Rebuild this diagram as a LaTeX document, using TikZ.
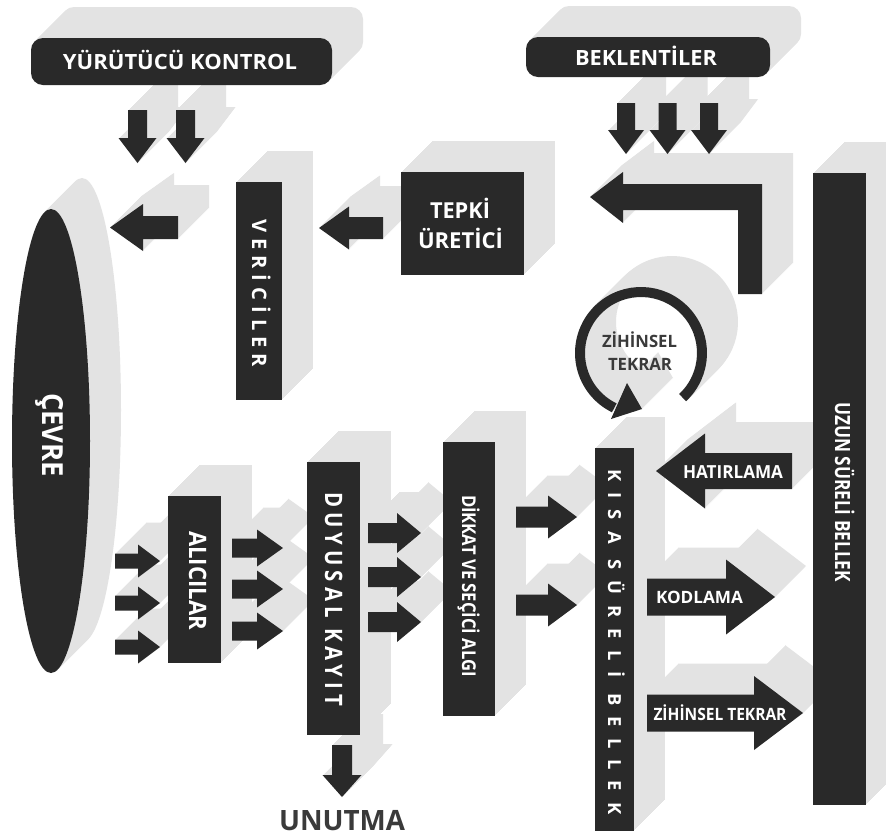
\documentclass[tikz,border=0pt]{standalone}
\usepackage{fontspec}
\setmainfont{Open Sans}
\usepackage{graphicx}
\definecolor{ink}{RGB}{41,41,41}
\definecolor{shadowgray}{RGB}{227,227,227}
\definecolor{greytext}{RGB}{58,58,58}
% horizontal block arrow: xstart, xhead, xtip, ycenter, shaft width, head width, style
\newcommand\harr[7]{\fill[#7] (#1,{#4-#5/2}) -- (#2,{#4-#5/2}) -- (#2,{#4-#6/2}) -- (#3,#4) -- (#2,{#4+#6/2}) -- (#2,{#4+#5/2}) -- (#1,{#4+#5/2}) -- cycle;}
% vertical block arrow: ystart, yhead, ytip, xcenter, shaft width, head width, style
\newcommand\varr[7]{\fill[#7] ({#4-#5/2},#1) -- ({#4-#5/2},#2) -- ({#4-#6/2},#2) -- (#4,#3) -- ({#4+#6/2},#2) -- ({#4+#5/2},#2) -- ({#4+#5/2},#1) -- cycle;}
\newcommand\fsz[1]{\fontsize{#1}{#1}\selectfont\bfseries}
\newcommand\allshapes[1]{%
 \fill[#1, rounded corners=12pt] (31,38) rectangle (332,85);
 \fill[#1, rounded corners=12pt] (526,37) rectangle (770,77);
 \varr{110}{138}{163}{137.5}{19}{38}{#1}
 \varr{110}{138}{163}{185.5}{19}{38}{#1}
 \varr{103}{130}{154}{626}{18}{36}{#1}
 \varr{103}{130}{154}{667.5}{18}{36}{#1}
 \varr{103}{130}{154}{709}{18}{36}{#1}
 \harr{178}{143}{110}{227.5}{23}{47}{#1}
 \fill[#1] (236,182) rectangle (282,400);
 \harr{383}{349}{319}{228}{22}{43}{#1}
 \fill[#1] (401,172) rectangle (524,275);
 \fill[#1] (590,197) -- (623,172) -- (623,184) -- (762,184) -- (762,294) -- (738,294) -- (738,210) -- (623,210) -- (623,223) -- cycle;
 \fill[#1] (813,173) rectangle (866,805);
 \fill[#1] (51,441) ellipse [x radius=39, y radius=232];
 \fill[#1] (168,496) rectangle (221,663);
 \harr{115}{138}{160}{561}{15}{33}{#1}
 \harr{115}{138}{160}{603}{15}{33}{#1}
 \harr{115}{138}{160}{647}{15}{33}{#1}
 \harr{232}{257}{283}{548}{19}{37}{#1}
 \harr{232}{257}{283}{589}{19}{37}{#1}
 \harr{232}{257}{283}{631}{19}{37}{#1}
 \fill[#1] (307,462) rectangle (360,735);
 \harr{368}{397}{421}{533}{20}{40}{#1}
 \harr{368}{397}{421}{577}{20}{40}{#1}
 \harr{368}{397}{421}{622}{20}{40}{#1}
 \fill[#1] (443,442) rectangle (495,716);
 \harr{516}{548}{577}{517}{21}{43}{#1}
 \harr{516}{548}{577}{605}{21}{43}{#1}
 \fill[#1] (595,448) rectangle (634,831);
 \harr{792}{705}{656}{471}{36}{75}{#1}
 \harr{647}{726}{775}{597}{37}{75}{#1}
 \harr{647}{754}{803}{713}{37}{74}{#1}
 \varr{745}{775}{797}{342}{20}{39}{#1}
 \draw[#1, line width=10pt] (641,353) ++(47:61) arc[start angle=47, end angle=-244, radius=61];
 \fill[#1] (627,383) -- (642,409) -- (611,419) -- cycle;
}
\tikzset{
  txt/.style={text=white, inner sep=0pt, anchor=base},
  vtxt/.style={txt, rotate=-90},
  gtxt/.style={text=greytext, inner sep=0pt, anchor=base}
}
\begin{document}
\begin{tikzpicture}[x=1pt,y=-1pt]
\fill[white] (0,0) rectangle (886,836);
\useasboundingbox (0,0) rectangle (886,836);
\foreach \k in {1,...,31}{\begin{scope}[shift={(\k,-\k)}]\allshapes{shadowgray}\end{scope}}
\allshapes{ink}
% horizontal labels
\node[txt, font=\fsz{21}] (yk) at (180,69.3) {\resizebox{234pt}{\height}{YÜRÜTÜCÜ KONTROL}};
\node[txt, font=\fsz{21}] (bek) at (646,65) {\resizebox{142pt}{\height}{BEKLENTİLER}};
\node[txt, font=\fsz{22}] (tepki) at (460,218) {\resizebox{60pt}{\height}{TEPKİ}};
\node[txt, font=\fsz{22}] (uretici) at (460.5,248) {\resizebox{85pt}{\height}{ÜRETİCİ}};
\node[txt, font=\fsz{18}] (hat) at (733,478) {\resizebox{100pt}{\height}{HATIRLAMA}};
\node[txt, font=\fsz{17}] (kod) at (699.5,603) {\resizebox{87pt}{\height}{KODLAMA}};
\node[txt, font=\fsz{17}] (zt) at (720,720) {\resizebox{133pt}{\height}{ZİHİNSEL TEKRAR}};
\node[gtxt, font=\fsz{17}] (zc1) at (639.5,347) {\resizebox{75pt}{\height}{ZİHİNSEL}};
\node[gtxt, font=\fsz{17}] (zc2) at (640,370) {\resizebox{64pt}{\height}{TEKRAR}};
\node[gtxt, font=\fsz{28}] (unut) at (342,830) {\resizebox{126pt}{\height}{UNUTMA}};
% vertical labels
\node[vtxt, font=\fsz{20}] (ver) at (252,293) {\resizebox{148pt}{\height}{\addfontfeature{LetterSpace=30}VERİCİLER}};
\node[vtxt, font=\fsz{29}] (cevre) at (42,435) {\resizebox{84pt}{\height}{ÇEVRE}};
\node[vtxt, font=\fsz{24}] (alici) at (189,580.5) {\resizebox{99pt}{\height}{ALICILAR}};
\node[vtxt, font=\fsz{24}] (duy) at (325,599) {\resizebox{214pt}{\height}{\addfontfeature{LetterSpace=25}DUYUSAL KAYIT}};
\node[vtxt, font=\fsz{19}] (dik) at (462,586) {\resizebox{182pt}{\height}{DİKKAT VE SEÇİCİ ALGI}};
\node[vtxt, font=\fsz{18}] (kisa) at (608,642) {\resizebox{345pt}{\height}{\addfontfeature{LetterSpace=60}KISA SÜRELİ BELLEK}};
\node[vtxt, font=\fsz{21}] (uzun) at (835,492) {\resizebox{180pt}{\height}{UZUN SÜRELİ BELLEK}};
\end{tikzpicture}
\end{document}
